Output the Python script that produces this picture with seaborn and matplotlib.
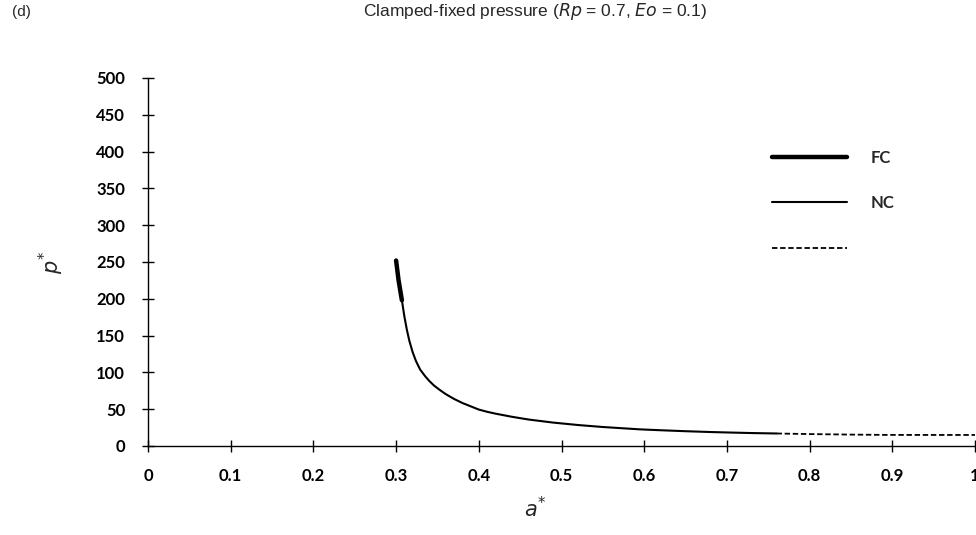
import matplotlib
matplotlib.use("Agg")
import matplotlib.pyplot as plt
import seaborn as sns
import pandas as pd

# Data
fc_a = [0.300, 0.303, 0.307]
fc_p = [252, 225, 198]
nc_a = [0.307, 0.310, 0.313, 0.316, 0.320, 0.324, 0.329, 0.335, 0.340, 0.346,
        0.353, 0.360, 0.370, 0.380, 0.390, 0.400, 0.410, 0.420, 0.440, 0.460,
        0.490, 0.520, 0.550, 0.595, 0.620, 0.650, 0.680, 0.700, 0.730, 0.760]
nc_p = [198, 176, 158, 143, 127.5, 115.5, 104, 95, 88.5, 82,
        76, 70.5, 64, 58.5, 54, 49.5, 46.5, 44, 39.7, 36,
        31.8, 28.5, 25.8, 22.6, 21.4, 20.1, 19.0, 18.4, 17.6, 17.0]
tail_a = [0.760, 0.800, 0.850, 0.890, 0.950, 1.000]
tail_p = [17.0, 16.2, 15.5, 15.1, 15.0, 15.0]

x_ticks = [0, 0.1, 0.2, 0.3, 0.4, 0.5, 0.6, 0.7, 0.8, 0.9, 1.0]
x_labels = ["0", "0.1", "0.2", "0.3", "0.4", "0.5", "0.6", "0.7", "0.8", "0.9", "1"]
y_ticks = [0, 50, 100, 150, 200, 250, 300, 350, 400, 450, 500]

sns.set_theme(style="ticks")
plt.rcParams['font.family'] = ['Lato', 'DejaVu Sans']

fig = plt.figure(figsize=(9.76, 5.35), dpi=100)
ax = fig.add_axes([148/976, 1-446/535, (975-148)/976, (446-78)/535])

df_fc = pd.DataFrame({"a": fc_a, "p": fc_p})
df_nc = pd.DataFrame({"a": nc_a, "p": nc_p})
df_tail = pd.DataFrame({"a": tail_a, "p": tail_p})

sns.lineplot(data=df_fc, x="a", y="p", ax=ax, color="black", lw=3.2, sort=False,
             label="FC", legend=False)
sns.lineplot(data=df_nc, x="a", y="p", ax=ax, color="black", lw=1.5, sort=False,
             label="NC", legend=False)
sns.lineplot(data=df_tail, x="a", y="p", ax=ax, color="black", lw=1.3, sort=False,
             linestyle=(0, (3, 1.5)), label=" ", legend=False)

ax.set_xlim(0, 1.0)
ax.set_ylim(0, 500)
ax.set_xticks(x_ticks)
ax.set_xticklabels(x_labels)
ax.set_yticks(y_ticks)
for sp in ["top", "right"]:
    ax.spines[sp].set_visible(False)
for sp in ["left", "bottom"]:
    ax.spines[sp].set_linewidth(1.0)
    ax.spines[sp].set_color("black")
ax.tick_params(axis="both", direction="inout", length=9, width=1.0, color="black",
               labelsize=12, labelcolor="black")
ax.tick_params(axis="x", pad=11)
ax.tick_params(axis="y", pad=12)
for lab in ax.get_xticklabels() + ax.get_yticklabels():
    lab.set_fontweight("bold")

ax.set_xlabel(r"$a^{*}$", fontsize=15)
ax.xaxis.set_label_coords((535-148)/827, -0.135)
ax.set_ylabel(r"$p^{*}$", fontsize=15, labelpad=22)

fig.text(535/976, 1-12/535, "Clamped-fixed pressure ($Rp$ = 0.7, $Eo$ = 0.1)",
         ha="center", va="center", fontsize=12.5, family="Liberation Sans")
fig.text(12/976, 1-12/535, "(d)", ha="left", va="center", fontsize=11,
         family="Liberation Sans")

leg = ax.legend(loc="upper left", bbox_to_anchor=(0.737, 0.845), frameon=False,
                handlelength=4.5, handletextpad=1.4, labelspacing=1.75,
                prop={"size": 12, "weight": "bold"})

fig.savefig("out.png", dpi=100)
